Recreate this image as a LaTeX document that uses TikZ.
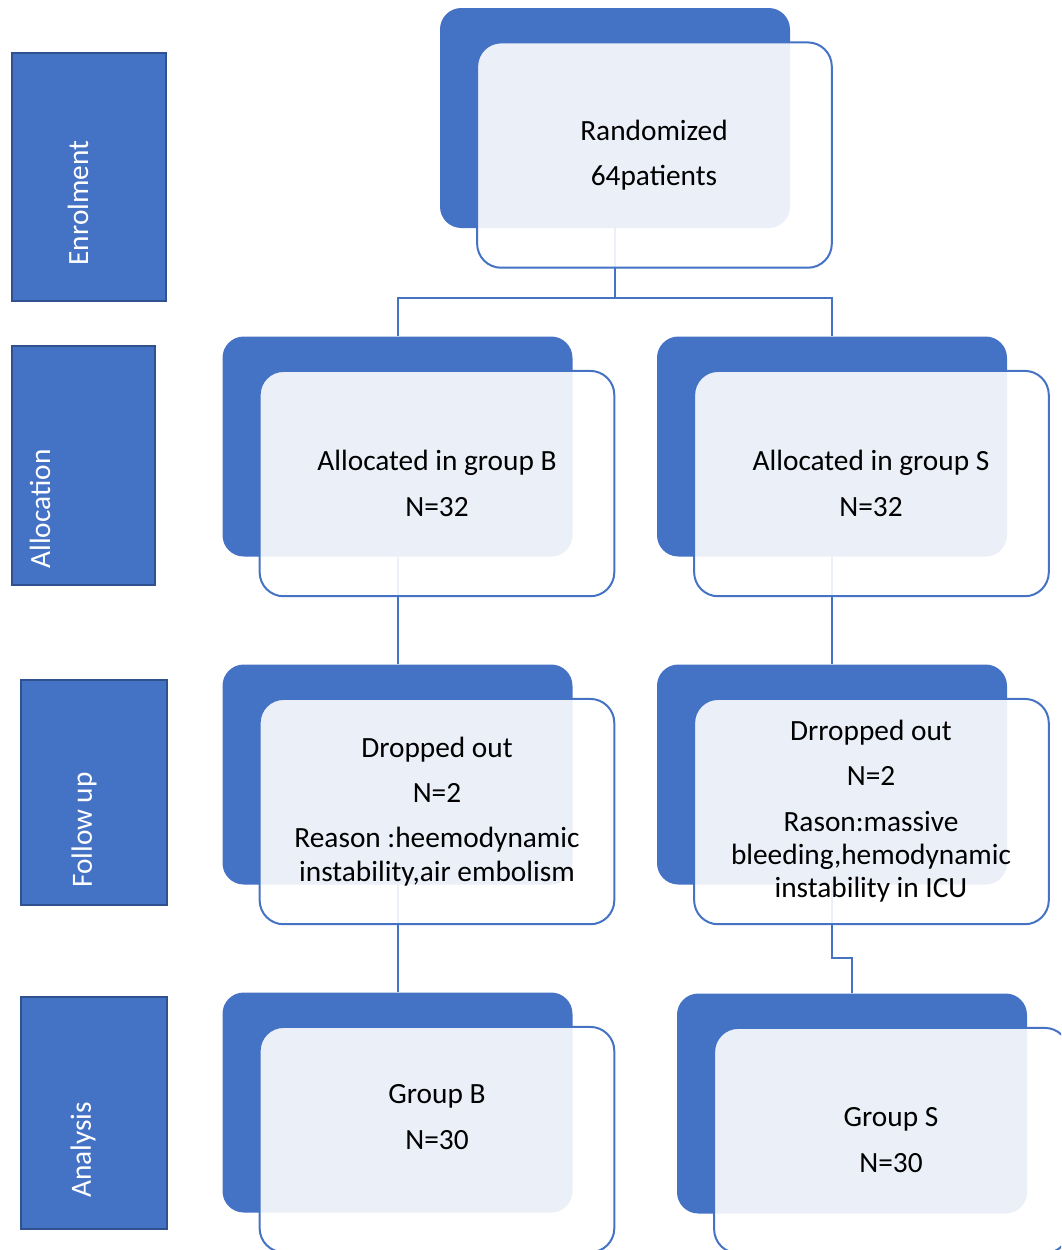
\documentclass[tikz,border=0pt]{standalone}
\usepackage{fontspec}
\setmainfont{Carlito}
\usetikzlibrary{positioning}
\definecolor{boxblue}{RGB}{68,114,196}
\definecolor{edgeblue}{RGB}{47,82,143}

\begin{document}
\begin{tikzpicture}[
    x=0.75pt, y=-0.75pt,
    sidebox/.style={rectangle, draw=edgeblue, line width=1.1pt, fill=boxblue, inner sep=0pt},
    sidetxt/.style={rotate=90, text=white, font=\fontsize{22}{25}\selectfont, inner sep=0pt},
    backbox/.style={rectangle, rounded corners=16pt, fill=boxblue, minimum width=262.5pt, minimum height=165pt, inner sep=0pt},
    frontbox/.style={rectangle, rounded corners=18pt, draw=boxblue, line width=1.5pt, fill=white, fill opacity=0.89, minimum width=266pt, minimum height=169pt, inner sep=0pt, xshift=29.6pt, yshift=-27.8pt},
    txt/.style={align=center, font=\fontsize{22}{25}\selectfont, inner sep=0pt},
    link/.style={draw=boxblue, line width=1.5pt}
]
\clip (0,0) rectangle (1061,1250);

% stage boxes on the left
\node[sidebox, minimum width=115.5pt, minimum height=186pt] (enrol) at (89,177) {};
\node[sidebox, minimum width=107.3pt, minimum height=179.3pt] (alloc) at (83.5,465.5) {};
\node[sidebox, minimum width=109.5pt, minimum height=168.8pt] (follow) at (94,792.5) {};
\node[sidebox, minimum width=109.5pt, minimum height=174pt] (analysis) at (94,1113) {};
\node[sidetxt] (enroltxt) at (78,203) {Enrolment};
\node[sidetxt] (alloctxt) at (40,509) {Allocation};
\node[sidetxt] (followtxt) at (84,830) {Follow up};
\node[sidetxt] (analysistxt) at (83,1150) {Analysis};

% back boxes
\node[backbox] (rndback) at (615,118) {};
\node[backbox] (alBback) at (397.5,446.5) {};
\node[backbox] (alSback) at (832,446.5) {};
\node[backbox] (fuBback) at (397.5,774.5) {};
\node[backbox] (fuSback) at (832,774.5) {};
\node[backbox] (anBback) at (397.5,1102.5) {};
\node[backbox] (anSback) at (852,1103.5) {};

% connectors
\draw[link] (rndback.south) -- ++(0,70) -| (alBback.north);
\draw[link] (rndback.south) -- ++(0,70) -| (alSback.north);
\draw[link] (alBback.south) -- (fuBback.north);
\draw[link] (alSback.south) -- (fuSback.north);
\draw[link] (fuBback.south) -- (anBback.north);
\draw[link] (fuSback.south) -- ++(0,73) -| (anSback.north);

% front boxes
\node[frontbox] (rndfront) at (rndback) {};
\node[frontbox] (alBfront) at (alBback) {};
\node[frontbox] (alSfront) at (alSback) {};
\node[frontbox] (fuBfront) at (fuBback) {};
\node[frontbox] (fuSfront) at (fuSback) {};
\node[frontbox] (anBfront) at (anBback) {};
\node[frontbox] (anSfront) at (anSback) {};

% texts
\node[txt] (rndtxt) at (654,155) {Randomized\\[9pt]64patients};
\node[txt] (alBtxt) at (437,483.5) {Allocated in group B\\[9pt]N=32};
\node[txt] (alStxt) at (871,483.5) {Allocated in group S\\[9pt]N=32};
\node[txt] (fuBtxt) at (437,811.5) {Dropped out\\[9pt]N=2\\[9pt]Reason :heemodynamic\\instability,air embolism};
\node[txt] (fuStxt) at (871,811.5) {Drropped out\\[9pt]N=2\\[9pt]Rason:massive\\bleeding,hemodynamic\\instability in ICU};
\node[txt] (anBtxt) at (437,1117) {Group B\\[9pt]N=30};
\node[txt] (anStxt) at (891,1140) {Group S\\[9pt]N=30};
\end{tikzpicture}
\end{document}
